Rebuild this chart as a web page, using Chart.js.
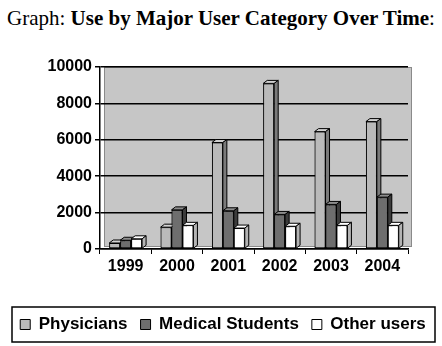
<!DOCTYPE html>
<html>
<head>
<meta charset="utf-8">
<script src="https://cdn.jsdelivr.net/npm/chart.js@4"></script>
<style>
  body { margin: 0; background: #fff; }
  #wrap { position: relative; width: 442px; height: 346px; }
  #title {
    position: absolute; top: 6px; left: 0; width: 442px; text-align: center;
    font-family: "Liberation Serif", "Times New Roman", serif; font-size: 21px; color: #000;
  }
  canvas { position: absolute; top: 0; left: 0; }
</style>
</head>
<body>
<div id="wrap">
  <div id="title">Graph: <b>Use by Major User Category Over Time</b>:</div>
  <canvas id="chart" width="442" height="346"></canvas>
</div>
<script>
// Data
const years = ['1999', '2000', '2001', '2002', '2003', '2004'];
const physicians = [330, 1200, 5850, 9100, 6450, 7000];
const medicalStudents = [480, 2150, 2100, 1900, 2450, 2850];
const otherUsers = [560, 1300, 1150, 1250, 1300, 1300];
const yTicks = [0, 2000, 4000, 6000, 8000, 10000];

const DEPTH_X = 4;
const DEPTH_Y = 3;
const FONT = 'Liberation Sans, Arial, sans-serif';

// gray back wall behind the bars
const wallPlugin = {
    id: 'wall',
    beforeDraw(chart) {
        const { ctx, chartArea } = chart;
        ctx.save();
        ctx.fillStyle = '#c6c6c6';
        ctx.fillRect(chartArea.left + DEPTH_X, chartArea.top, chartArea.width, chartArea.height - DEPTH_Y);
        ctx.strokeStyle = '#8a8a8a';
        ctx.lineWidth = 1;
        ctx.strokeRect(chartArea.left + DEPTH_X + 0.5, chartArea.top + 0.5, chartArea.width - 1, chartArea.height - DEPTH_Y);
        ctx.restore();
    }
};

// redraw the bars series by series with a top and a side face (3D columns)
const columnPlugin = {
    id: 'column3d',
    afterDatasetsDraw(chart) {
        const { ctx } = chart;
        chart.data.datasets.forEach((ds, i) => {
            const meta = chart.getDatasetMeta(i);
            meta.data.forEach(bar => {
                bar.draw(ctx, chart.chartArea);
                const l = bar.x - bar.width / 2;
                const r = bar.x + bar.width / 2;
                const t = bar.y;
                const b = bar.base;
                ctx.save();
                ctx.strokeStyle = '#000';
                ctx.lineWidth = 1;
                // top face
                ctx.beginPath();
                ctx.moveTo(l, t);
                ctx.lineTo(l + DEPTH_X, t - DEPTH_Y);
                ctx.lineTo(r + DEPTH_X, t - DEPTH_Y);
                ctx.lineTo(r, t);
                ctx.closePath();
                ctx.fillStyle = ds.topColor;
                ctx.fill();
                ctx.stroke();
                // side face
                ctx.beginPath();
                ctx.moveTo(r, t);
                ctx.lineTo(r + DEPTH_X, t - DEPTH_Y);
                ctx.lineTo(r + DEPTH_X, b - DEPTH_Y);
                ctx.lineTo(r, b);
                ctx.closePath();
                ctx.fillStyle = ds.sideColor;
                ctx.fill();
                ctx.stroke();
                ctx.restore();
            });
        });
    }
};

// frame round the legend
const legendBoxPlugin = {
    id: 'legendBox',
    afterDraw(chart) {
        const boxes = chart.legend.legendHitBoxes;
        if (!boxes || !boxes.length) return;
        const { ctx } = chart;
        const top = boxes[0].top;
        const h = boxes[0].height;
        ctx.save();
        ctx.strokeStyle = '#000';
        ctx.lineWidth = 1.5;
        ctx.strokeRect(12, top - 9, 423, h + 18);
        ctx.restore();
    }
};

const ctx = document.getElementById('chart').getContext('2d');
new Chart(ctx, {
    type: 'bar',
    data: {
        labels: years,
        datasets: [
            { label: 'Physicians', data: physicians, backgroundColor: '#bababa', topColor: '#d2d2d2', sideColor: '#7a7a7a' },
            { label: 'Medical Students', data: medicalStudents, backgroundColor: '#6e6e6e', topColor: '#8c8c8c', sideColor: '#3c3c3c' },
            { label: 'Other users', data: otherUsers, backgroundColor: '#ffffff', topColor: '#ffffff', sideColor: '#b4b4b4' }
        ]
    },
    options: {
        responsive: false,
        animation: false,
        devicePixelRatio: 1,
        layout: { padding: { top: 67, right: 0, left: 4, bottom: 3 } },
        datasets: {
            bar: {
                borderColor: '#000',
                borderWidth: 1,
                borderSkipped: false,
                barPercentage: 1,
                categoryPercentage: 0.64
            }
        },
        scales: {
            x: {
                afterFit(axis) { axis.height = 54; },
                grid: { display: true, drawOnChartArea: false, offset: true, color: '#000', tickLength: 5, lineWidth: 1 },
                border: { color: '#000', width: 1.5 },
                ticks: { color: '#000', font: { family: FONT, size: 16, weight: 'bold' }, padding: 3 }
            },
            y: {
                min: 0,
                max: 10000,
                afterBuildTicks(axis) { axis.ticks = yTicks.map(v => ({ value: v })); },
                afterFit(axis) { axis.width = 96; },
                grid: { color: '#000', lineWidth: 1.5, tickLength: 5 },
                border: { color: '#000', width: 1.5 },
                ticks: {
                    color: '#000',
                    font: { family: FONT, size: 16, weight: 'bold' },
                    padding: 3,
                    callback: v => String(v)
                }
            },
            // empty right axis, only keeps room on the right of the plot
            yRight: {
                position: 'right',
                afterFit(axis) { axis.width = 34; },
                grid: { display: false },
                border: { display: false },
                ticks: { display: false }
            }
        },
        plugins: {
            title: { display: false },
            tooltip: { enabled: false },
            legend: {
                position: 'bottom',
                labels: {
                    color: '#000',
                    font: { family: FONT, size: 17, weight: 'bold' },
                    boxWidth: 10,
                    boxHeight: 10,
                    padding: 13
                }
            }
        }
    },
    plugins: [wallPlugin, columnPlugin, legendBoxPlugin]
});
</script>
</body>
</html>
